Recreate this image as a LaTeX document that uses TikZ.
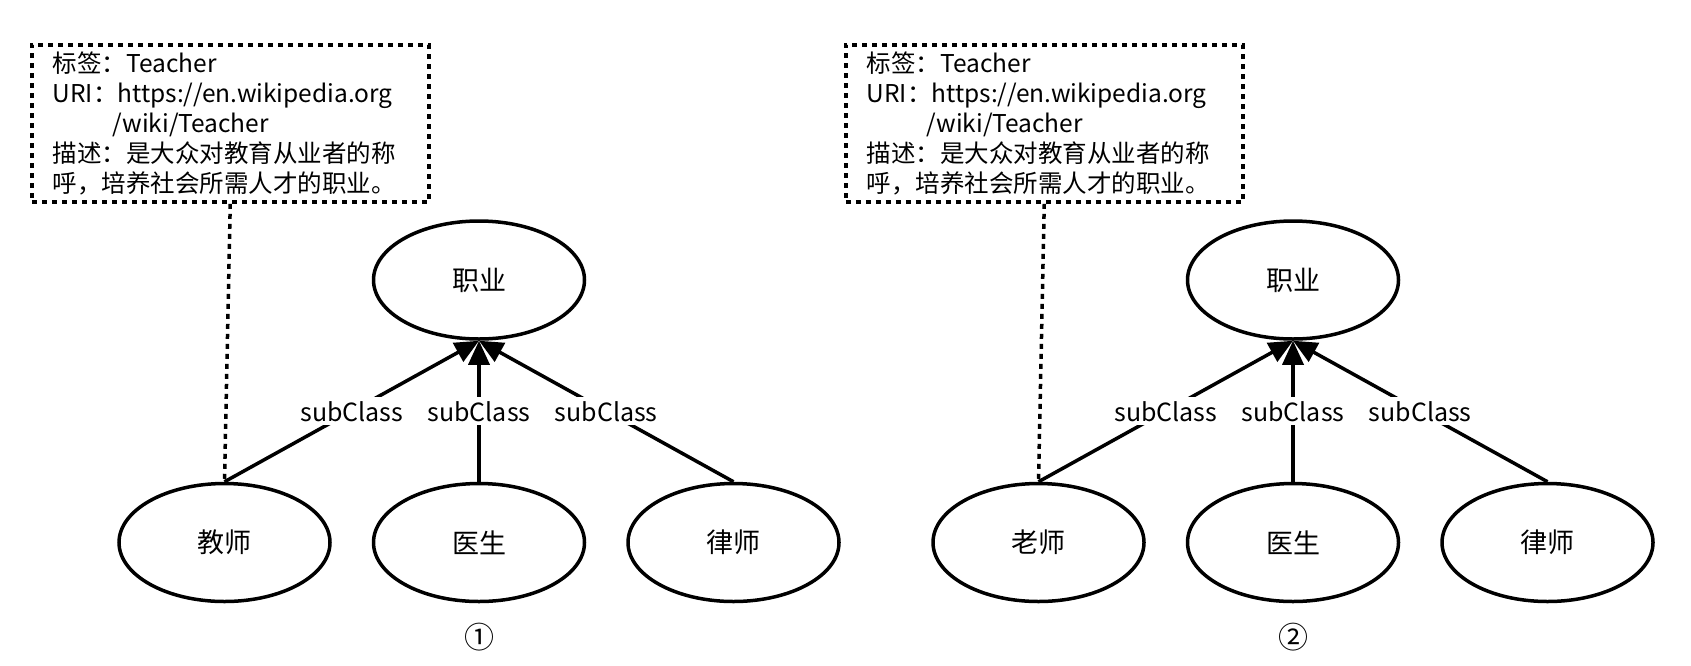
\documentclass[tikz,border=0pt]{standalone}
\usepackage{fontspec}
\setmainfont{Noto Sans CJK SC}
\usetikzlibrary{positioning, shapes.geometric, arrows.meta}

\begin{document}
\begin{tikzpicture}[x=1pt, y=-1pt,
    class/.style={ellipse, draw, line width=3.5pt, minimum width=211pt, minimum height=118pt, font=\fontsize{27}{30}\selectfont},
    isa/.style={line width=3.5pt, -{Triangle[length=24pt, width=21pt]}},
    rel/.style={fill=white, inner sep=4pt, font=\fontsize{25}{30}\selectfont},
    note/.style={draw, line width=3.5pt, dash pattern=on 5pt off 5pt, align=left, anchor=north west, text width=355pt, inner xsep=21pt, inner ysep=7pt, font=\fontsize{24.5}{30}\selectfont},
    link/.style={line width=3.5pt, dash pattern=on 5pt off 5pt}]
    \useasboundingbox (0,0) rectangle (1691,665);

    % first picture
    \node[note] (note1) at (30,43) {标签：Teacher\\URI：https://en.wikipedia.org\\\hspace*{60pt}/wiki/Teacher\\描述：是大众对教育从业者的称\\呼，培养社会所需人才的职业。};
    \node[class] (job1) at (479,280) {职业};
    \node[class] (med1) [below=141pt of job1] {医生};
    \node[class] (tch1) [left=40pt of med1] {教师};
    \node[class] (law1) [right=40pt of med1] {律师};
    \node (num1) [below=16pt of med1, font=\fontsize{30}{32}\selectfont] {①};
    \draw[isa] (tch1.north) -- node[rel] {subClass} (job1.south);
    \draw[isa] (med1.north) -- node[rel] {subClass} (job1.south);
    \draw[isa] (law1.north) -- node[rel] {subClass} (job1.south);
    \draw[link] (note1.south) -- (tch1.north);

    % second picture
    \node[note] (note2) at (844,43) {标签：Teacher\\URI：https://en.wikipedia.org\\\hspace*{60pt}/wiki/Teacher\\描述：是大众对教育从业者的称\\呼，培养社会所需人才的职业。};
    \node[class] (job2) at (1293,280) {职业};
    \node[class] (med2) [below=141pt of job2] {医生};
    \node[class] (tch2) [left=40pt of med2] {老师};
    \node[class] (law2) [right=40pt of med2] {律师};
    \node (num2) [below=16pt of med2, font=\fontsize{30}{32}\selectfont] {②};
    \draw[isa] (tch2.north) -- node[rel] {subClass} (job2.south);
    \draw[isa] (med2.north) -- node[rel] {subClass} (job2.south);
    \draw[isa] (law2.north) -- node[rel] {subClass} (job2.south);
    \draw[link] (note2.south) -- (tch2.north);
\end{tikzpicture}
\end{document}
